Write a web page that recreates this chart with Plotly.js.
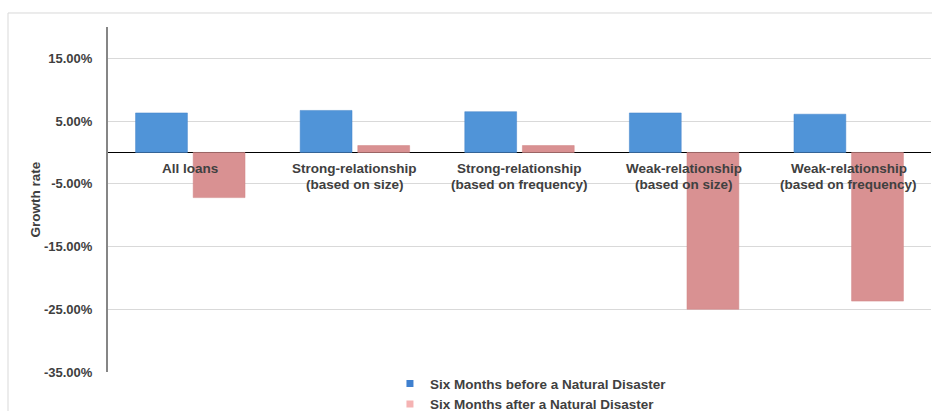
<!DOCTYPE html>
<html>
<head>
<meta charset="utf-8">
<script src="https://cdn.plot.ly/plotly-3.0.1.min.js"></script>
<style>
  html, body { margin: 0; padding: 0; background: #ffffff; }
  #chart { width: 932px; height: 411px; }
</style>
</head>
<body>
<div id="chart"></div>
<script>
// Category labels (line break shown with <br>)
const categories = [
  "All loans",
  "Strong-relationship<br>(based on size)",
  "Strong-relationship<br>(based on frequency)",
  "Weak-relationship<br>(based on size)",
  "Weak-relationship<br>(based on frequency)"
];
// Growth rates in percent
const beforeValues = [6.3, 6.7, 6.5, 6.3, 6.1];
const afterValues = [-7.2, 1.1, 1.1, -25.0, -23.7];
const seriesNames = [
  "Six Months before a Natural Disaster",
  "Six Months after a Natural Disaster"
];
const yTickVals = [-35, -25, -15, -5, 5, 15];
const yTickText = yTickVals.map(v => v.toFixed(2) + "%");

const textColor = "#404040";
const font = "Liberation Sans, Arial, sans-serif";

const traces = [
  {
    type: "bar", x: categories, y: beforeValues, name: seriesNames[0],
    marker: { color: "#5094d8", line: { color: "#4282c8", width: 0.5 } },
    showlegend: false, hoverinfo: "y"
  },
  {
    type: "bar", x: categories, y: afterValues, name: seriesNames[1],
    marker: { color: "#d99192", line: { color: "#d08485", width: 0.5 } },
    showlegend: false, hoverinfo: "y"
  },
  // legend-only markers (small squares as in the reference)
  {
    type: "scatter", mode: "markers", x: [null], y: [null], name: seriesNames[0],
    marker: { symbol: "square", size: 7, color: "#3f80cf" }
  },
  {
    type: "scatter", mode: "markers", x: [null], y: [null], name: seriesNames[1],
    marker: { symbol: "square", size: 7, color: "#f5b3b3" }
  }
];

// One annotation per label line, so the line spacing matches the reference
const annotations = [];
categories.forEach(c => {
  c.split("<br>").forEach((line, i) => {
    annotations.push({
      x: c, y: 0, xref: "x", yref: "y",
      text: line, showarrow: false,
      yanchor: "middle", yshift: -16 - 16 * i,
      font: { family: font, size: 13.5, color: textColor, weight: "bold" },
      align: "center"
    });
  });
});

const layout = {
  width: 932, height: 411,
  margin: { l: 108, r: 1, t: 27, b: 39, autoexpand: false },
  paper_bgcolor: "#ffffff", plot_bgcolor: "#ffffff",
  font: { family: font, size: 13.5, color: textColor },
  barmode: "group", bargap: 0.3, bargroupgap: 0.1,
  xaxis: {
    type: "category",
    showticklabels: false, ticks: "", showgrid: false,
    showline: false, zeroline: false
  },
  yaxis: {
    range: [-35, 20],
    tickmode: "array", tickvals: yTickVals, ticktext: yTickText,
    tickfont: { family: font, size: 13, color: textColor, weight: "bold" },
    ticks: "", ticklabelstandoff: 11,
    showgrid: true, gridcolor: "#d9d9d9", gridwidth: 1,
    showline: true, linecolor: "#868686", linewidth: 2,
    zeroline: true, zerolinecolor: "#000000", zerolinewidth: 1,
    title: {
      text: "Growth rate",
      font: { family: font, size: 13.5, color: textColor, weight: "bold" },
      standoff: 0
    }
  },
  showlegend: true,
  legend: {
    orientation: "v",
    x: 0.3426, xanchor: "left",
    y: 0.011, yanchor: "top",
    font: { family: font, size: 13.5, color: textColor, weight: "bold" },
    bgcolor: "rgba(0,0,0,0)",
    itemwidth: 30, tracegroupgap: 0
  },
  annotations: annotations,
  shapes: [
    {
      type: "rect", xref: "paper", yref: "paper",
      x0: -0.1215, x1: 1.05, y0: -0.3, y1: 1.0406,
      line: { color: "#d9d9d9", width: 1 }, fillcolor: "rgba(0,0,0,0)",
      layer: "below"
    }
  ]
};

Plotly.newPlot("chart", traces, layout, { displayModeBar: false, staticPlot: true });
</script>
</body>
</html>
